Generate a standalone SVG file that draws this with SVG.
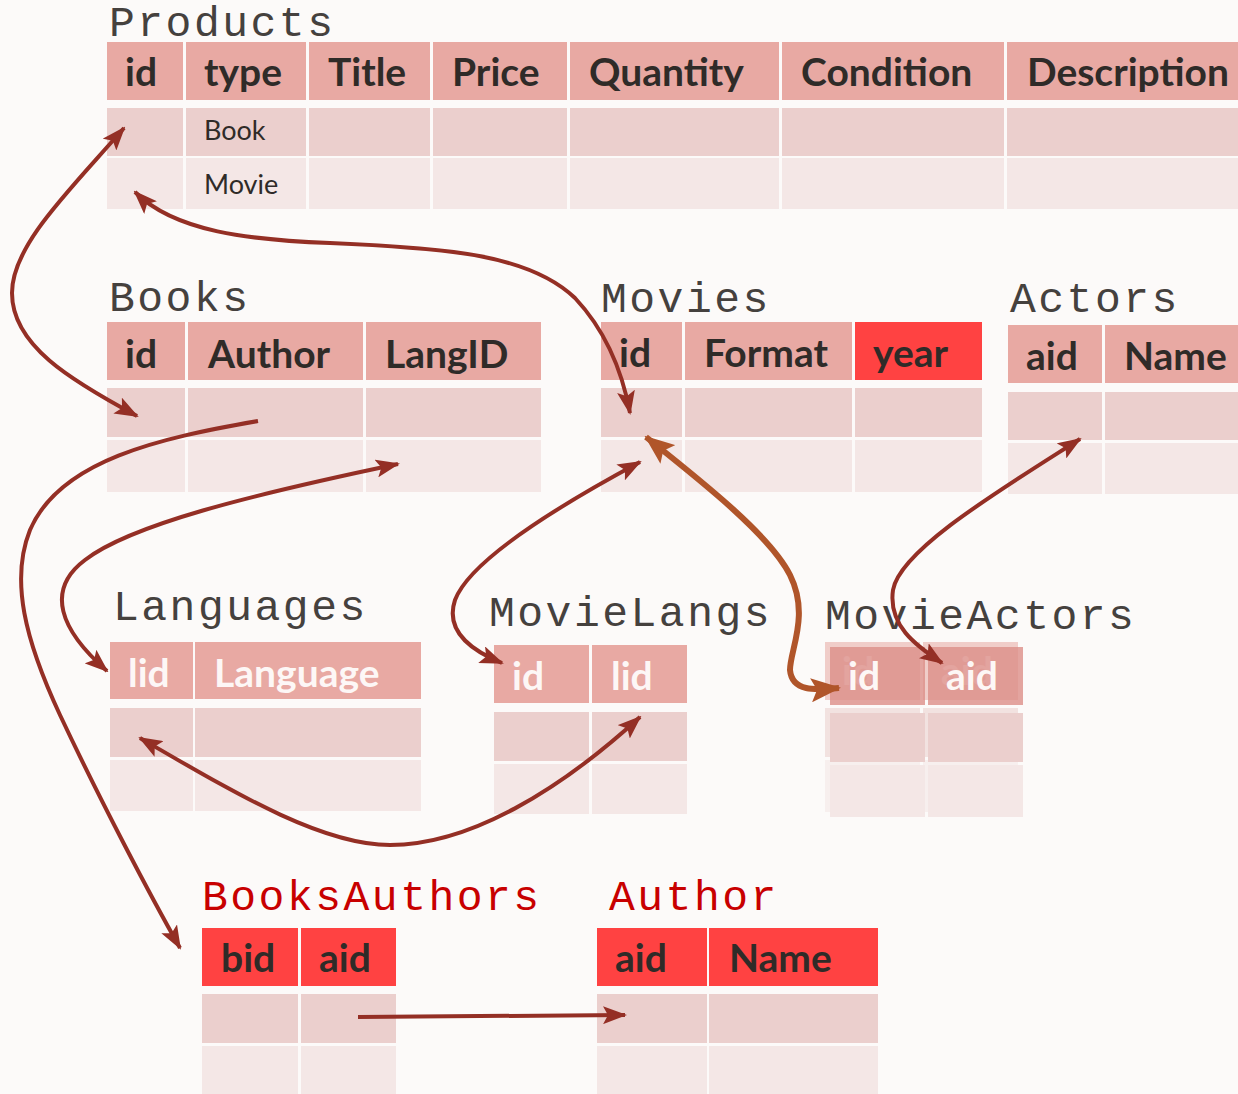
<svg xmlns="http://www.w3.org/2000/svg" width="1238" height="1094" viewBox="0 0 1238 1094">
<style>
.hdr{fill:#e8a9a3}
.red{fill:#ff4242}
.r1{fill:#ebcfcd}
.r2{fill:#f4e7e6}
.ttl{font-family:"Liberation Mono","Courier New",monospace;font-size:43px;letter-spacing:2.5px;fill:#45413e}
.ttlr{font-family:"Liberation Mono","Courier New",monospace;font-size:43px;letter-spacing:2.5px;fill:#c80000}
.h{font-family:Lato,"Noto Sans",sans-serif;font-weight:bold;font-size:39px;fill:#2f2b28}
.hw{font-family:Lato,"Noto Sans",sans-serif;font-weight:bold;font-size:39px;fill:#fdf7f6}
.b{font-family:Lato,"Noto Sans",sans-serif;font-size:27px;fill:#2f2b28}
.c{fill:none;stroke:#942f25;stroke-width:4}
.co{fill:none;stroke:#b0552a;stroke-width:6}
</style>
<defs>
<marker id="ah" markerUnits="userSpaceOnUse" viewBox="0 0 24 18" refX="22" refY="9" markerWidth="24" markerHeight="18" orient="auto-start-reverse">
<path d="M0,0 L24,9 L0,18 L5,9 Z" fill="#942f25"/>
</marker>
<marker id="aho" markerUnits="userSpaceOnUse" viewBox="0 0 30 24" refX="28" refY="12" markerWidth="30" markerHeight="24" orient="auto-start-reverse">
<path d="M0,0 L30,12 L0,24 L6,12 Z" fill="#b0552a"/>
</marker>
</defs>
<rect width="1238" height="1094" fill="#fcfaf9"/>

<g id="products">
<text class="ttl" x="109" y="36">Products</text>
<rect class="hdr" x="107" y="42" width="76" height="58"/>
<rect class="hdr" x="186" y="42" width="120" height="58"/>
<rect class="hdr" x="309" y="42" width="121" height="58"/>
<rect class="hdr" x="433" y="42" width="134" height="58"/>
<rect class="hdr" x="570" y="42" width="209" height="58"/>
<rect class="hdr" x="782" y="42" width="222" height="58"/>
<rect class="hdr" x="1007" y="42" width="231" height="58"/>
<rect class="r1" x="107" y="108" width="76" height="48"/>
<rect class="r1" x="186" y="108" width="120" height="48"/>
<rect class="r1" x="309" y="108" width="121" height="48"/>
<rect class="r1" x="433" y="108" width="134" height="48"/>
<rect class="r1" x="570" y="108" width="209" height="48"/>
<rect class="r1" x="782" y="108" width="222" height="48"/>
<rect class="r1" x="1007" y="108" width="231" height="48"/>
<rect class="r2" x="107" y="158" width="76" height="51"/>
<rect class="r2" x="186" y="158" width="120" height="51"/>
<rect class="r2" x="309" y="158" width="121" height="51"/>
<rect class="r2" x="433" y="158" width="134" height="51"/>
<rect class="r2" x="570" y="158" width="209" height="51"/>
<rect class="r2" x="782" y="158" width="222" height="51"/>
<rect class="r2" x="1007" y="158" width="231" height="51"/>
<text class="h" x="125" y="86">id</text>
<text class="h" x="204" y="86">type</text>
<text class="h" x="328" y="86">Title</text>
<text class="h" x="452" y="86">Price</text>
<text class="h" x="589" y="86">Quantity</text>
<text class="h" x="801" y="86">Condition</text>
<text class="h" x="1027" y="86">Description</text>
<text class="b" x="204" y="140">Book</text>
<text class="b" x="204" y="194">Movie</text>
</g>

<g id="books">
<text class="ttl" x="109" y="311">Books</text>
<rect class="hdr" x="107" y="322" width="78" height="58"/>
<rect class="hdr" x="188" y="322" width="175" height="58"/>
<rect class="hdr" x="366" y="322" width="175" height="58"/>
<rect class="r1" x="107" y="388" width="78" height="49"/>
<rect class="r1" x="188" y="388" width="175" height="49"/>
<rect class="r1" x="366" y="388" width="175" height="49"/>
<rect class="r2" x="107" y="440" width="78" height="52"/>
<rect class="r2" x="188" y="440" width="175" height="52"/>
<rect class="r2" x="366" y="440" width="175" height="52"/>
<text class="h" x="125" y="368">id</text>
<text class="h" x="208" y="368">Author</text>
<text class="h" x="385" y="368">LangID</text>
</g>

<g id="movies">
<text class="ttl" x="601" y="312">Movies</text>
<rect class="hdr" x="601" y="322" width="81" height="58"/>
<rect class="hdr" x="685" y="322" width="167" height="58"/>
<rect class="red" x="855" y="322" width="127" height="58"/>
<rect class="r1" x="601" y="388" width="81" height="49"/>
<rect class="r1" x="685" y="388" width="167" height="49"/>
<rect class="r1" x="855" y="388" width="127" height="49"/>
<rect class="r2" x="601" y="440" width="81" height="52"/>
<rect class="r2" x="685" y="440" width="167" height="52"/>
<rect class="r2" x="855" y="440" width="127" height="52"/>
<text class="h" x="619" y="367">id</text>
<text class="h" x="704" y="367">Format</text>
<text class="h" x="873" y="367">year</text>
</g>

<g id="actors">
<text class="ttl" x="1010" y="312">Actors</text>
<rect class="hdr" x="1008" y="325" width="94" height="58"/>
<rect class="hdr" x="1105" y="325" width="133" height="58"/>
<rect class="r1" x="1008" y="392" width="94" height="48"/>
<rect class="r1" x="1105" y="392" width="133" height="48"/>
<rect class="r2" x="1008" y="443" width="94" height="51"/>
<rect class="r2" x="1105" y="443" width="133" height="51"/>
<text class="h" x="1026" y="370">aid</text>
<text class="h" x="1124" y="370">Name</text>
</g>

<g id="languages">
<text class="ttl" x="113" y="620">Languages</text>
<rect class="hdr" x="110" y="642" width="83" height="57"/>
<rect class="hdr" x="195" y="642" width="226" height="57"/>
<rect class="r1" x="110" y="708" width="83" height="49"/>
<rect class="r1" x="195" y="708" width="226" height="49"/>
<rect class="r2" x="110" y="760" width="83" height="51"/>
<rect class="r2" x="195" y="760" width="226" height="51"/>
<text class="hw" x="128" y="687">lid</text>
<text class="hw" x="214" y="687">Language</text>
</g>

<g id="movielangs">
<text class="ttl" x="489" y="626">MovieLangs</text>
<rect class="hdr" x="494" y="645" width="95" height="58"/>
<rect class="hdr" x="592" y="645" width="95" height="58"/>
<rect class="r1" x="494" y="712" width="95" height="49"/>
<rect class="r1" x="592" y="712" width="95" height="49"/>
<rect class="r2" x="494" y="764" width="95" height="50"/>
<rect class="r2" x="592" y="764" width="95" height="50"/>
<text class="hw" x="512" y="690">id</text>
<text class="hw" x="611" y="690">lid</text>
</g>

<g id="movieactors">
<text class="ttl" x="825" y="629">MovieActors</text>
<g opacity="0.55">
<rect class="hdr" x="825" y="642" width="95" height="58"/>
<rect class="hdr" x="923" y="642" width="95" height="58"/>
<rect class="r1" x="825" y="708" width="95" height="49"/>
<rect class="r1" x="923" y="708" width="95" height="49"/>
<rect class="r2" x="825" y="760" width="95" height="52"/>
<rect class="r2" x="923" y="760" width="95" height="52"/>
<text class="hw" x="842" y="685">id</text>
<text class="hw" x="941" y="685">aid</text>
</g>
<rect x="830" y="647" width="95" height="58" fill="#dc8f88" opacity="0.8"/>
<rect x="928" y="647" width="95" height="58" fill="#dc8f88" opacity="0.8"/>
<rect class="r1" x="830" y="713" width="95" height="49"/>
<rect class="r1" x="928" y="713" width="95" height="49"/>
<rect class="r2" x="830" y="765" width="95" height="52"/>
<rect class="r2" x="928" y="765" width="95" height="52"/>
<text class="hw" x="848" y="690">id</text>
<text class="hw" x="946" y="690">aid</text>
</g>

<g id="booksauthors">
<text class="ttlr" x="202" y="910">BooksAuthors</text>
<rect class="red" x="202" y="928" width="96" height="58"/>
<rect class="red" x="301" y="928" width="95" height="58"/>
<rect class="r1" x="202" y="994" width="96" height="49"/>
<rect class="r1" x="301" y="994" width="95" height="49"/>
<rect class="r2" x="202" y="1046" width="96" height="48"/>
<rect class="r2" x="301" y="1046" width="95" height="48"/>
<text class="h" x="221" y="972">bid</text>
<text class="h" x="319" y="972">aid</text>
</g>

<g id="author">
<text class="ttlr" x="609" y="910">Author</text>
<rect class="red" x="597" y="928" width="110" height="58"/>
<rect class="red" x="709" y="928" width="169" height="58"/>
<rect class="r1" x="597" y="994" width="110" height="49"/>
<rect class="r1" x="709" y="994" width="169" height="49"/>
<rect class="r2" x="597" y="1046" width="110" height="48"/>
<rect class="r2" x="709" y="1046" width="169" height="48"/>
<text class="h" x="615" y="972">aid</text>
<text class="h" x="729" y="972">Name</text>
</g>

<g id="connectors">
<path class="c" marker-start="url(#ah)" marker-end="url(#ah)" d="M124,128 C70,190 12,245 12,293 C12,345 70,380 137,416"/>
<path class="c" marker-start="url(#ah)" marker-end="url(#ah)" d="M135,192 C175,232 250,240 330,243 C450,248 530,255 575,298 C605,330 622,370 630,413"/>
<path class="c" marker-end="url(#ah)" d="M258,421 C160,438 60,460 30,530 C10,580 25,640 60,715 C100,800 150,895 180,948"/>
<path class="c" marker-start="url(#ah)" marker-end="url(#ah)" d="M398,464 C250,495 130,525 85,560 C45,590 60,630 107,671"/>
<path class="c" marker-start="url(#ah)" marker-end="url(#ah)" d="M140,738 C230,790 320,845 390,845 C470,845 560,790 640,717"/>
<path class="c" marker-start="url(#ah)" marker-end="url(#ah)" d="M640,462 C560,505 470,560 455,600 C445,630 470,650 502,663"/>
<path class="co" marker-start="url(#aho)" marker-end="url(#aho)" d="M646,437 C700,480 770,535 790,575 C810,615 790,650 790,670 C792,692 815,690 839,688"/>
<path class="c" marker-start="url(#ah)" marker-end="url(#ah)" d="M1080,439 C1000,490 900,550 893,590 C888,625 915,645 942,663"/>
<path class="c" marker-end="url(#ah)" d="M358,1017 L625,1015"/>
</g>
</svg>
